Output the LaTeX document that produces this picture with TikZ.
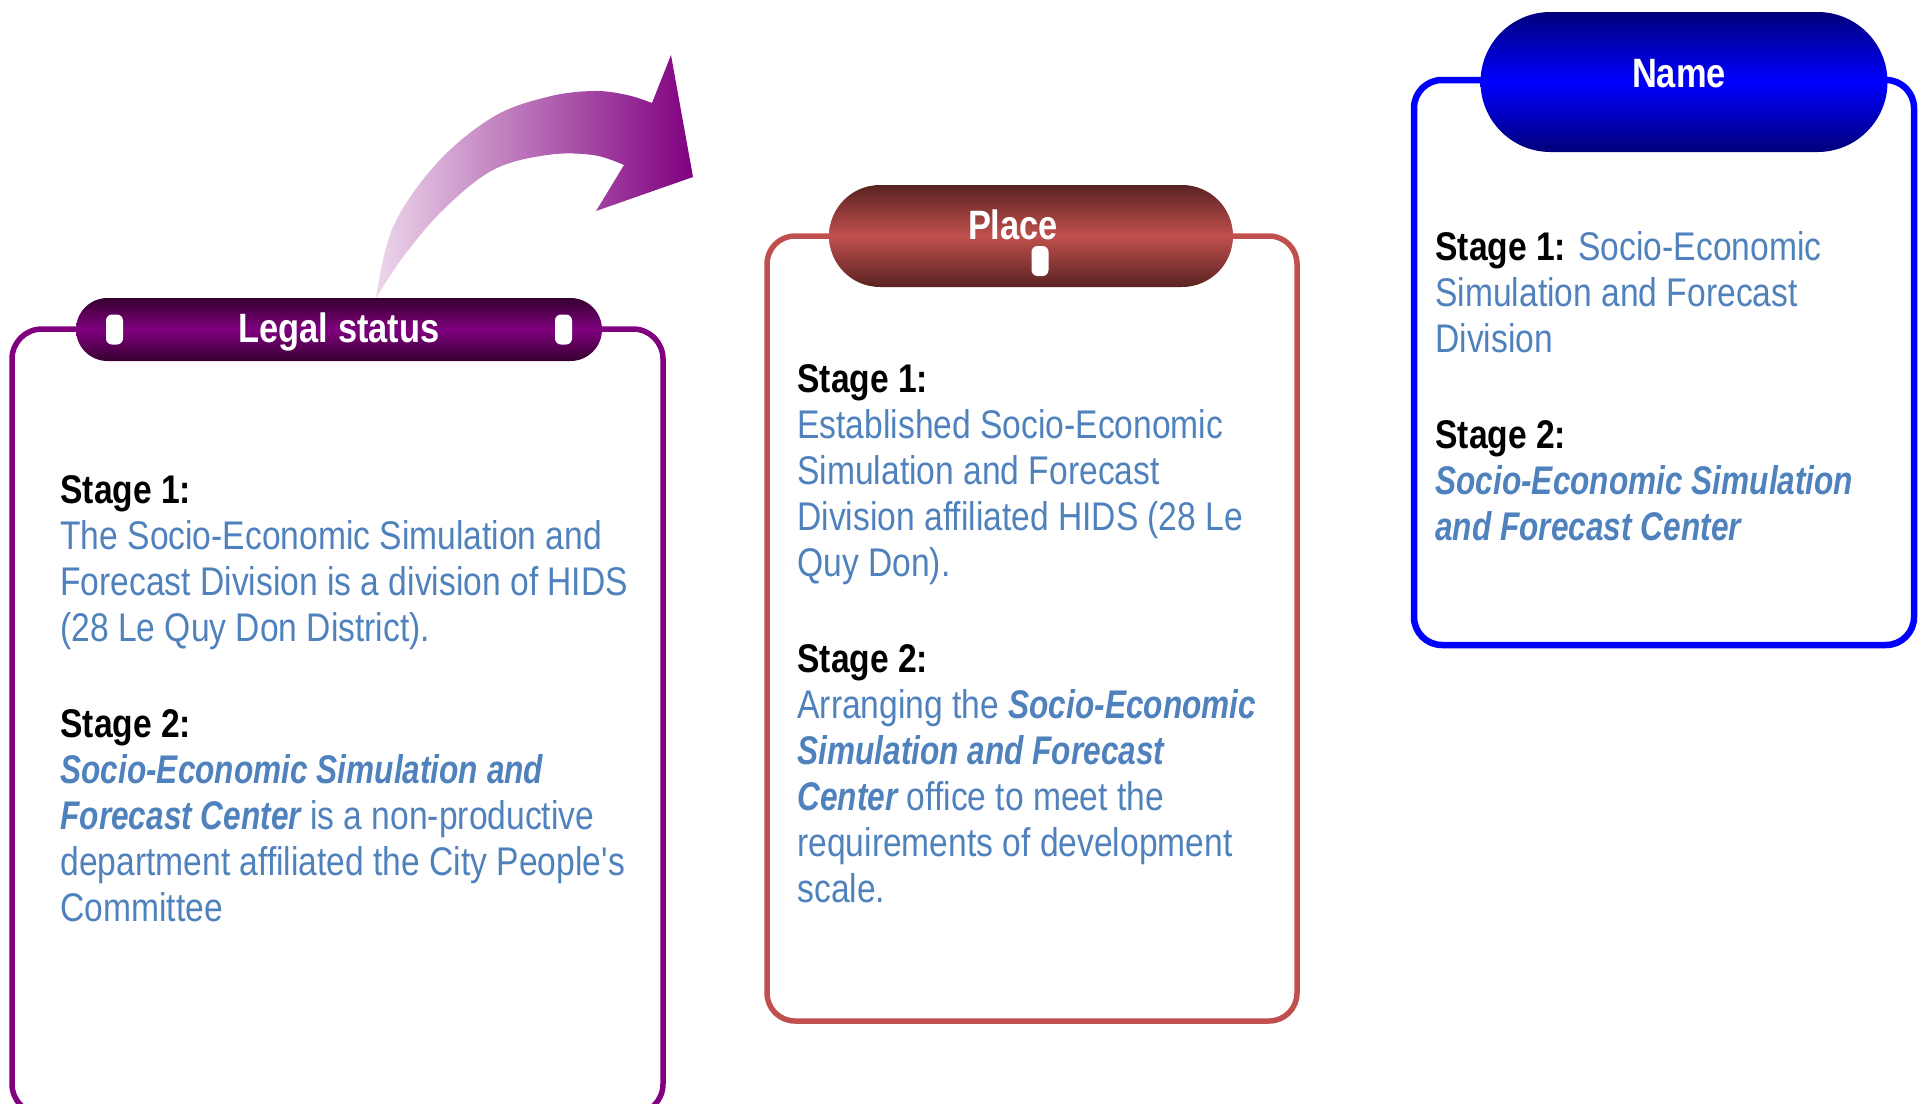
\documentclass[tikz,border=0pt]{standalone}
\usepackage{fontspec}
\setmainfont{Liberation Sans}[FakeStretch=0.84]
\newfontfamily\unitfont{Liberation Sans}[FakeStretch=0.79]
\usetikzlibrary{shapes.misc,positioning}
\definecolor{bodyblue}{HTML}{4F81BD}
\definecolor{legalpurple}{HTML}{800080}
\definecolor{legaldark}{HTML}{36002F}
\definecolor{arrowlight}{HTML}{ECD6EA}
\definecolor{placered}{HTML}{C0504D}
\definecolor{placedark}{HTML}{5A2222}
\definecolor{nameblue}{HTML}{0000FF}
\definecolor{namedark}{HTML}{00007A}
\tikzstyle{frame}=[line width=2.75pt,rounded corners=14pt]
\tikzstyle{pill}=[rounded rectangle,inner sep=0pt]
\tikzstyle{marker}=[fill=white,rounded corners=3pt,minimum width=8.5pt,minimum height=15pt,inner sep=0pt]
\tikzstyle{title}=[text=white,inner sep=0pt,font=\fontsize{20.5pt}{24pt}\selectfont\bfseries]
% anchored at the baseline of the last line
\tikzstyle{stagetext}=[anchor=base west,align=left,inner sep=0pt,text=bodyblue,font=\fontsize{20pt}{23pt}\selectfont]
\newcommand{\stagelabel}[1]{\textcolor{black}{\bfseries #1}}
\newcommand{\unitname}[1]{{\unitfont\bfseries\itshape #1}}

\begin{document}
\begin{tikzpicture}[x=0.5pt,y=-0.5pt]
    \useasboundingbox (0,0) rectangle (1925,1103);

    % frames
    \draw[frame,legalpurple,rounded corners=15pt] (12,329) rectangle (663,1114);
    \draw[frame,placered] (767,236) rectangle (1297,1021);
    \draw[frame,nameblue,line width=3.25pt] (1414,80) rectangle (1914,645);

    % curved arrow out of the legal status header
    \shade[left color=arrowlight,right color=legalpurple]
        plot[smooth,tension=0.6] coordinates {(376,298) (393,227) (437,163) (493,117) (547,97) (593,91) (627,95) (652,103)}
        -- (671,55) -- (693,177) -- (596,211) -- (624,165)
        -- plot[smooth,tension=0.6] coordinates {(624,165) (593,155) (547,155) (493,170) (443,210) (403,257) (376,298)}
        -- cycle;

    % headers
    \node[pill,minimum width=263pt,minimum height=31.5pt,
          top color=legaldark,bottom color=legaldark,middle color=legalpurple] (legalhd) at (339,329.5) {};
    \node[marker,right=15pt of legalhd.west,anchor=west] (legalmk1) {};
    \node[marker,left=15pt of legalhd.east,anchor=east] (legalmk2) {};
    \node[title] (legaltt) at ([yshift=-1pt]legalhd.center) {Legal status};

    \node[pill,minimum width=202pt,minimum height=51pt,
          top color=placedark,bottom color=placedark,middle color=placered] (placehd) at (1031,236) {};
    \node[title] (placett) at ([xshift=-9pt,yshift=5.5pt]placehd.center) {Place};
    \node[marker] (placemk) at (1040,261) {};

    \node[pill,minimum width=203.5pt,minimum height=70pt,
          top color=namedark,bottom color=namedark,middle color=nameblue] (namehd) at (1684,82) {};
    \node[title] (namett) at ([xshift=-2.5pt,yshift=4pt]namehd.center) {Name};

    % box texts
    \node[stagetext] (legaltxt) at (60,921) {\stagelabel{Stage 1:}\\
        The Socio-Economic Simulation and\\
        Forecast Division is a division of HIDS\\
        (28 Le Quy Don District).\\[25pt]
        \stagelabel{Stage 2:}\\
        \unitname{Socio-Economic Simulation and}\\
        \unitname{Forecast Center} is a non-productive\\
        department affiliated the City People\textquotesingle s\\
        Committee};
    \node[stagetext] (placetxt) at (797,902) {\stagelabel{Stage 1:}\\
        Established Socio-Economic\\
        Simulation and Forecast\\
        Division affiliated HIDS (28 Le\\
        Quy Don).\\[25pt]
        \stagelabel{Stage 2:}\\
        Arranging the \unitname{Socio-Economic}\\
        \unitname{Simulation and Forecast}\\
        \unitname{Center} office to meet the\\
        requirements of development\\
        scale.};
    \node[stagetext] (nametxt) at (1435,540) {\stagelabel{Stage 1:} Socio-Economic\\
        Simulation and Forecast\\
        Division\\[25pt]
        \stagelabel{Stage 2:}\\
        \unitname{Socio-Economic Simulation}\\
        \unitname{and Forecast Center}};
\end{tikzpicture}
\end{document}
